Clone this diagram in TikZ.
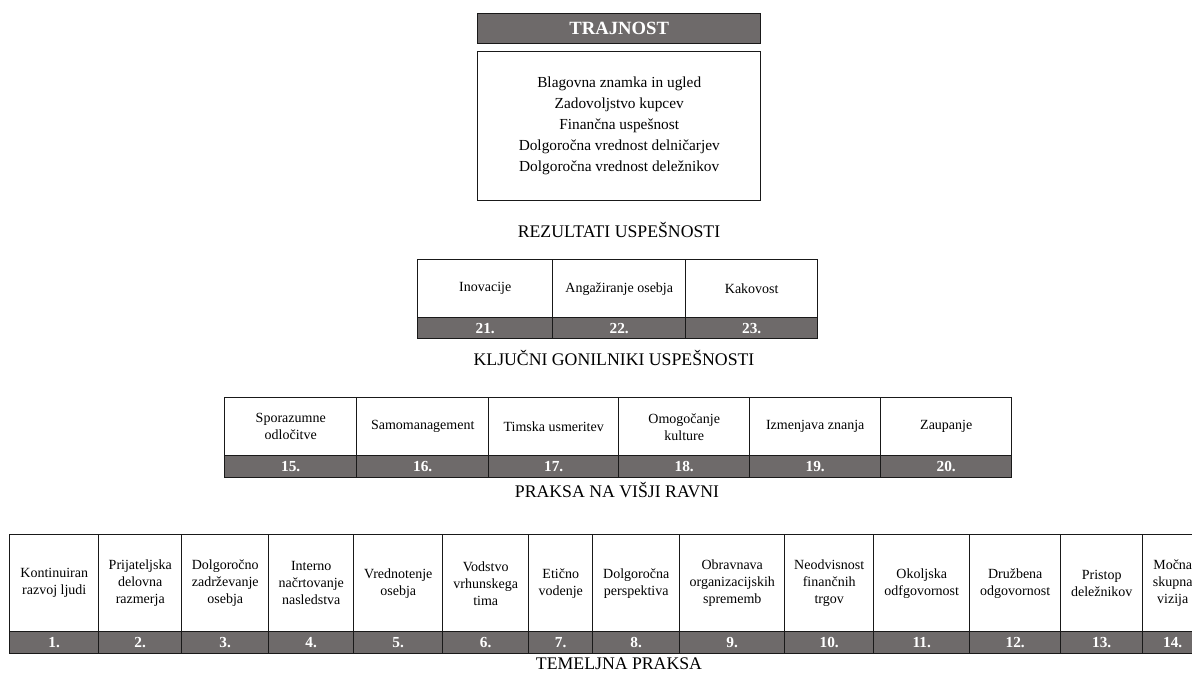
\documentclass[tikz,border=0pt]{standalone}
\usepackage{fontspec}
\setmainfont{Liberation Serif}
\definecolor{bargray}{RGB}{110,106,106}
\definecolor{edge}{RGB}{25,25,25}
\tikzset{
  cellbox/.style={draw=edge, line width=1.1pt, inner sep=0pt, anchor=north west, align=center,
    font=\fontsize{10.5}{12.75}\selectfont},
  numbar/.style={draw=edge, line width=1.1pt, fill=bargray, inner sep=0pt, anchor=north west,
    text=white, font=\fontsize{11.5}{12}\selectfont\bfseries},
  rowlabel/.style={font=\fontsize{13.3}{15}\selectfont, inner sep=0pt},
}
\begin{document}
\begin{tikzpicture}[x=0.75pt,y=-0.75pt]
\useasboundingbox (0,0) rectangle (1192,676);
\clip (0,0) rectangle (1192,676);
\fill[white] (0,0) rectangle (1192,676);

% top
\node[numbar, minimum width=212.25pt, minimum height=22.5pt,
  font=\fontsize{14}{16}\selectfont\bfseries] (trajnost) at (477,13) {TRAJNOST};
\node[cellbox, minimum width=212.25pt, minimum height=111.75pt,
  font=\fontsize{11.5}{15.75}\selectfont] (rezultati) at (477,51)
  {Blagovna znamka in ugled\\Zadovoljstvo kupcev\\Finančna uspešnost\\Dolgoročna vrednost delničarjev\\Dolgoročna vrednost deležnikov};
\node[rowlabel] (lab1) at (619,230) {REZULTATI USPEŠNOSTI};

% row 2
\foreach \i/\l/\r/\t in {21/417/552/{Inovacije}, 22/552/685/{Angažiranje osebja}, 23/685/817/{Kakovost}}{
  \pgfmathsetmacro\w{(\r-\l)*0.75}
  \node[cellbox, minimum width=\w pt, minimum height=43.5pt] (k\i) at (\l,259) {\t};
  \node[numbar, minimum width=\w pt, minimum height=15.75pt] (kn\i) at (\l,317) {\i.};
}
\node[rowlabel] (lab2) at (614,358) {KLJUČNI GONILNIKI USPEŠNOSTI};

% row 3
\foreach \i/\l/\r/\t in {15/224/356/{Sporazumne\\odločitve}, 16/356/488/{Samomanagement},
  17/488/618/{Timska usmeritev}, 18/618/749/{Omogočanje\\kulture},
  19/749/880/{Izmenjava znanja}, 20/880/1011/{Zaupanje}}{
  \pgfmathsetmacro\w{(\r-\l)*0.75}
  \node[cellbox, minimum width=\w pt, minimum height=43.5pt] (p\i) at (\l,397) {\t};
  \node[numbar, minimum width=\w pt, minimum height=16.5pt] (pn\i) at (\l,455) {\i.};
}
\node[rowlabel] (lab3) at (617,490) {PRAKSA NA VIŠJI RAVNI};

% row 4
\foreach \i/\l/\r/\t in {1/9/98/{Kontinuiran\\razvoj ljudi}, 2/98/181/{Prijateljska\\delovna\\razmerja},
  3/181/268/{Dolgoročno\\zadrževanje\\osebja}, 4/268/353/{Interno\\načrtovanje\\nasledstva},
  5/353/442/{Vrednotenje\\osebja}, 6/442/528/{Vodstvo\\vrhunskega\\tima},
  7/528/592/{Etično\\vodenje}, 8/592/679/{Dolgoročna\\perspektiva},
  9/679/784/{Obravnava\\organizacijskih\\sprememb}, 10/784/873/{Neodvisnost\\finančnih\\trgov},
  11/873/969/{Okoljska\\odfgovornost}, 12/969/1060/{Družbena\\odgovornost},
  13/1060/1142/{Pristop\\deležnikov}, 14/1142/1202/{Močna\\skupna\\vizija}}{
  \pgfmathsetmacro\w{(\r-\l)*0.75}
  \node[cellbox, minimum width=\w pt, minimum height=72.75pt] (t\i) at (\l,534) {\t};
  \node[numbar, minimum width=\w pt, minimum height=16.5pt] (tn\i) at (\l,631) {\i.};
}
\node[rowlabel] (lab4) at (619,664) {TEMELJNA PRAKSA};
\end{tikzpicture}
\end{document}
